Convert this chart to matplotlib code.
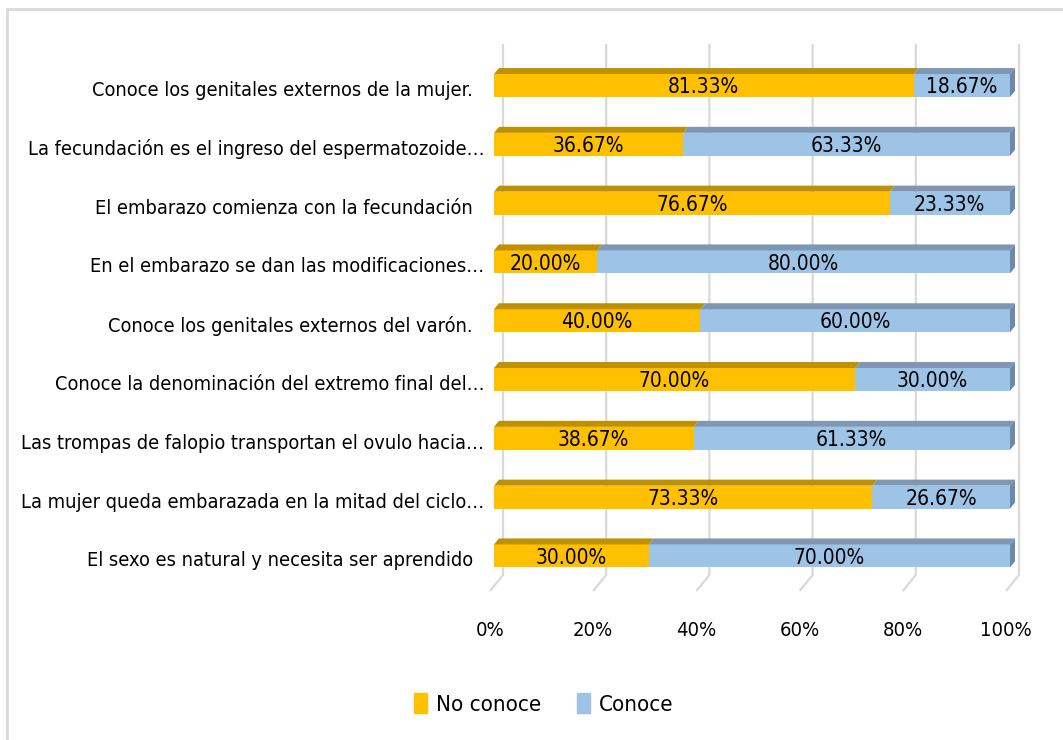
import numpy as np
import matplotlib
matplotlib.use("Agg")
import matplotlib.pyplot as plt
from matplotlib.patches import Polygon, Rectangle, Patch

plt.rcParams['font.family'] = ['DejaVu Sans']
plt.rcParams['font.stretch'] = 'condensed'

# data (top to bottom)
preguntas = [
    "Conoce los genitales externos de la mujer.  ",
    "La fecundación es el ingreso del espermatozoide…",
    "El embarazo comienza con la fecundación  ",
    "En el embarazo se dan las modificaciones…",
    "Conoce los genitales externos del varón.  ",
    "Conoce la denominación del extremo final del…",
    "Las trompas de falopio transportan el ovulo hacia…",
    "La mujer queda embarazada en la mitad del ciclo…",
    "El sexo es natural y necesita ser aprendido  ",
]
no_conoce = [81.33, 36.67, 76.67, 20.00, 40.00, 70.00, 38.67, 73.33, 30.00]
conoce = [18.67, 63.33, 23.33, 80.00, 60.00, 30.00, 61.33, 26.67, 70.00]
ticks = [0, 20, 40, 60, 80, 100]

c_no, c_no_top = "#FFC000", "#BF9000"
c_si, c_si_top, c_si_side = "#9DC3E6", "#7E97B3", "#6E89A6"
grid_c = "#D9D9D9"

W, H = 1063, 740
fig = plt.figure(figsize=(W / 100, H / 100), dpi=100)

# axes placed in pixels; x data 0..100 -> bar front 494..1010 px
pxx, pxy = 5.16, 58.8
ax_l, ax_r, ax_t, ax_b = 487, 1035, 30, 600
ax = fig.add_axes([ax_l / W, 1 - ax_b / H, (ax_r - ax_l) / W, (ax_b - ax_t) / H])
ax.set_xlim((ax_l - 494) / pxx, (ax_r - 494) / pxx)
ax.set_ylim((ax_b - 85.5) / pxy, (ax_t - 85.5) / pxy)
for s in ax.spines.values():
    s.set_visible(False)

# 3d offsets in data units
bar_h = 0.39
dx, dy = 5 / pxx, 6 / pxy
wall_off = 9 / pxx
front_off = -4 / pxx
wall_top, wall_bot, floor_front = (44 - 85.5) / pxy, (575 - 85.5) / pxy, (591 - 85.5) / pxy

# back wall gridlines + floor diagonals
for v in ticks:
    ax.plot([v + wall_off, v + wall_off, v + front_off],
            [wall_top, wall_bot, floor_front], color=grid_c, lw=1.6, zorder=1,
            solid_capstyle='butt')

y = np.arange(len(preguntas))
ax.barh(y, no_conoce, height=bar_h, color=c_no, zorder=3)
ax.barh(y, conoce, left=no_conoce, height=bar_h, color=c_si, zorder=3)

for i in range(len(preguntas)):
    top = y[i] - bar_h / 2
    bot = y[i] + bar_h / 2
    a = no_conoce[i]
    b = a + conoce[i]
    # top faces
    ax.add_patch(Polygon([(0, top), (dx, top - dy), (a + dx, top - dy), (a, top)],
                         closed=True, color=c_no_top, lw=0, zorder=3))
    ax.add_patch(Polygon([(a, top), (a + dx, top - dy), (b + dx, top - dy), (b, top)],
                         closed=True, color=c_si_top, lw=0, zorder=3))
    # right side face
    ax.add_patch(Polygon([(b, top), (b + dx, top - dy), (b + dx, bot - dy), (b, bot)],
                         closed=True, color=c_si_side, lw=0, zorder=3))
    ax.text(a / 2, y[i] + 0.03, f"{no_conoce[i]:.2f}%", ha='center', va='center',
            fontsize=15, zorder=5)
    ax.text(a + conoce[i] / 2, y[i] + 0.03, f"{conoce[i]:.2f}%", ha='center', va='center',
            fontsize=15, zorder=5)

ax.set_yticks(y + 0.05, labels=preguntas, fontsize=14.3)
ax.set_xticks(np.array(ticks) + front_off, labels=[f"{v}%" for v in ticks], fontsize=14.5)
ax.tick_params(axis='y', length=0, pad=2)
ax.tick_params(axis='x', length=0, pad=15)

handles = [Patch(color=c_no, label="No conoce"), Patch(color=c_si, label="Conoce")]
fig.legend(handles=handles, loc='center', bbox_to_anchor=(544 / W, 1 - 704 / H),
           ncol=2, frameon=False, fontsize=16, handlelength=0.6, handleheight=1.0,
           handletextpad=0.4, columnspacing=1.6)

# chart border
fig.add_artist(Rectangle((7 / W, -0.05), 1.1, 1 - 9 / H + 0.05, transform=fig.transFigure,
                         fill=False, edgecolor=grid_c, lw=2))

fig.savefig("out.png", dpi=100)
